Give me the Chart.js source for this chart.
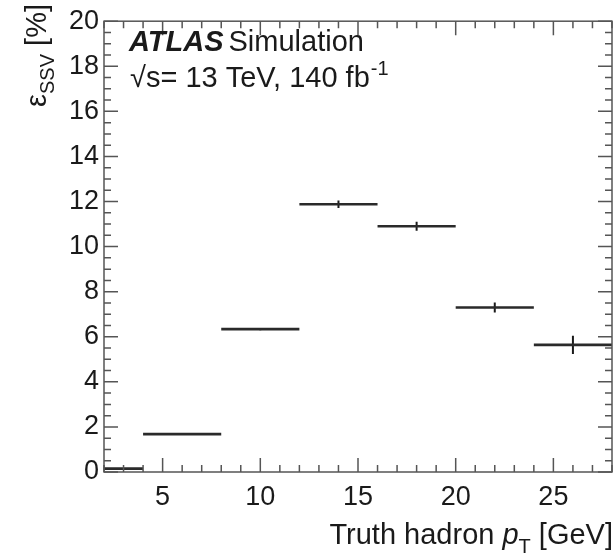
<!DOCTYPE html>
<html>
<head>
<meta charset="utf-8">
<script src="https://cdn.jsdelivr.net/npm/chart.js@4.4.1/dist/chart.umd.min.js"></script>
<style>
    html, body { margin: 0; padding: 0; background: #ffffff; }
    #wrap { width: 615px; height: 558px; position: relative; }
</style>
</head>
<body>
<div id="wrap"><canvas id="effChart" width="615" height="558"></canvas></div>
<script>
// bin edges in truth hadron pT [GeV]
const binLow = [2, 4, 8, 12, 16, 20, 24];
const binHigh = [4, 8, 12, 16, 20, 24, 28];
// SSV efficiency [%] and its statistical uncertainty
const effValues = [0.15, 1.68, 6.34, 11.88, 10.9, 7.3, 5.64];
const effErrors = [0.0, 0.03, 0.05, 0.17, 0.2, 0.22, 0.4];

const xTickValues = [5, 10, 15, 20, 25];
const yTickValues = [0, 2, 4, 6, 8, 10, 12, 14, 16, 18, 20];

const FONT = '"Liberation Sans", Arial, Helvetica, sans-serif';
const INK = '#1a1a1a';
const FRAME = '#555555';

const binSegments = [];
const errorSegments = [];
binLow.forEach((lo, i) => {
    const hi = binHigh[i];
    const v = effValues[i];
    const e = effErrors[i];
    const c = (lo + hi) / 2;
    binSegments.push({ x: lo, y: v }, { x: hi, y: v }, { x: hi, y: null });
    if (e > 0) {
        errorSegments.push({ x: c, y: v - e }, { x: c, y: v + e }, { x: c, y: null });
    }
});

// ROOT-style frame with inward major/minor ticks on all four sides
const framePlugin = {
    id: 'rootFrame',
    afterDatasetsDraw(chart) {
        const { ctx, chartArea: a, scales } = chart;
        const xs = scales.x;
        const ys = scales.y;
        ctx.save();
        ctx.strokeStyle = FRAME;
        ctx.lineWidth = 1.5;
        ctx.strokeRect(a.left, a.top, a.right - a.left, a.bottom - a.top);

        ctx.beginPath();
        for (let v = Math.ceil(xs.min); v <= xs.max; v += 1) {
            const px = xs.getPixelForValue(v);
            const len = v % 5 === 0 ? 14 : 7;
            ctx.moveTo(px, a.bottom);
            ctx.lineTo(px, a.bottom - len);
            ctx.moveTo(px, a.top);
            ctx.lineTo(px, a.top + len);
        }
        for (let v = ys.min; v <= ys.max + 1e-9; v += 0.5) {
            const py = ys.getPixelForValue(v);
            const major = Math.abs(v / 2 - Math.round(v / 2)) < 1e-6;
            const len = major ? 14 : 7;
            ctx.moveTo(a.left, py);
            ctx.lineTo(a.left + len, py);
            ctx.moveTo(a.right, py);
            ctx.lineTo(a.right - len, py);
        }
        ctx.stroke();
        ctx.restore();
    },
    afterDraw(chart) {
        const { ctx, chartArea: a } = chart;
        ctx.save();
        ctx.fillStyle = INK;
        ctx.textBaseline = 'alphabetic';

        const main = '29px ' + FONT;
        const ital = 'italic 29px ' + FONT;
        const sub = '20px ' + FONT;

        // x axis title: Truth hadron p_T [GeV], right aligned
        const parts = [
            { t: 'Truth hadron ', f: main, dy: 0 },
            { t: 'p', f: ital, dy: 0 },
            { t: 'T', f: sub, dy: 9 },
            { t: ' [GeV]', f: main, dy: 0 },
        ];
        let total = 0;
        parts.forEach(p => { ctx.font = p.f; p.w = ctx.measureText(p.t).width; total += p.w; });
        let x = a.right + 1 - total;
        const base = 544;
        parts.forEach(p => { ctx.font = p.f; ctx.fillText(p.t, x, base + p.dy); x += p.w; });

        // y axis title: eps_SSV [%], rotated, top aligned
        ctx.save();
        ctx.translate(46, 4);
        ctx.rotate(-Math.PI / 2);
        const yParts = [
            { t: '\u03b5', f: main, dy: 0 },
            { t: 'SSV', f: sub, dy: 8 },
            { t: ' [%]', f: main, dy: 0 },
        ];
        let yTotal = 0;
        yParts.forEach(p => { ctx.font = p.f; p.w = ctx.measureText(p.t).width; yTotal += p.w; });
        let lx = -yTotal;
        yParts.forEach(p => { ctx.font = p.f; ctx.fillText(p.t, lx, p.dy); lx += p.w; });
        ctx.restore();

        // ATLAS label
        ctx.font = 'italic bold 29px ' + FONT;
        ctx.fillText('ATLAS', 129, 51);
        const aw = ctx.measureText('ATLAS').width;
        ctx.font = main;
        ctx.fillText('Simulation', 129 + aw + 5, 51);

        const l2 = '\u221as= 13 TeV, 140 fb';
        ctx.fillText(l2, 130, 87);
        const l2w = ctx.measureText(l2).width;
        ctx.font = sub;
        ctx.fillText('-1', 130 + l2w + 1, 75);
        ctx.restore();
    },
};

new Chart(document.getElementById('effChart'), {
    type: 'line',
    data: {
        datasets: [
            {
                label: 'bins',
                data: binSegments,
                borderColor: '#2a2a2a',
                borderWidth: 2.6,
                pointRadius: 0,
                spanGaps: false,
                tension: 0,
            },
            {
                label: 'errors',
                data: errorSegments,
                borderColor: '#1a1a1a',
                borderWidth: 2,
                pointRadius: 0,
                spanGaps: false,
                tension: 0,
            },
        ],
    },
    options: {
        responsive: false,
        animation: false,
        events: [],
        layout: {
            padding: { left: 0, right: 3, top: 14, bottom: 0 },
        },
        plugins: {
            legend: { display: false },
            tooltip: { enabled: false },
        },
        scales: {
            x: {
                type: 'linear',
                min: 2,
                max: 28,
                afterBuildTicks(scale) {
                    scale.ticks = xTickValues.map(v => ({ value: v }));
                },
                afterFit(scale) {
                    scale.height = 86;
                },
                grid: { display: false, drawTicks: false },
                border: { display: false },
                ticks: {
                    color: INK,
                    padding: 9,
                    maxRotation: 0,
                    font: { family: FONT, size: 27 },
                },
            },
            y: {
                type: 'linear',
                min: 0,
                max: 20,
                afterBuildTicks(scale) {
                    scale.ticks = yTickValues.map(v => ({ value: v }));
                },
                afterFit(scale) {
                    scale.width = 104;
                },
                grid: { display: false, drawTicks: false },
                border: { display: false },
                ticks: {
                    color: INK,
                    padding: 5,
                    font: { family: FONT, size: 27 },
                },
            },
        },
    },
    plugins: [framePlugin],
});
</script>
</body>
</html>
